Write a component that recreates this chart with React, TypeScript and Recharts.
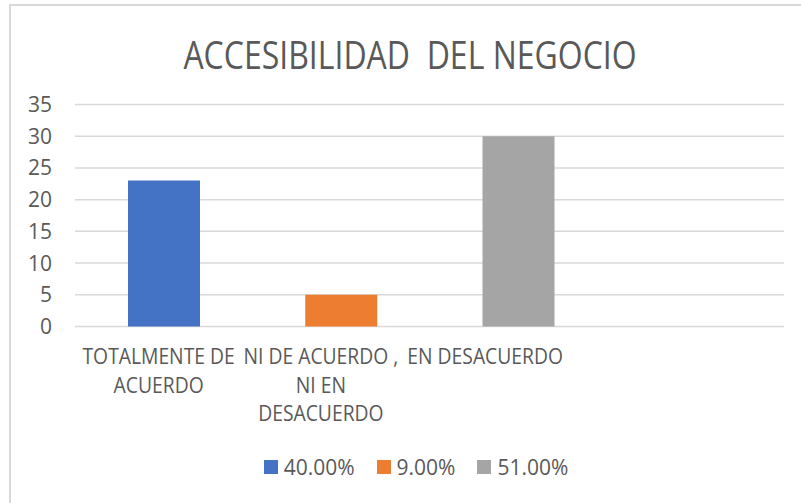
import { BarChart, Bar, XAxis, YAxis, CartesianGrid, Legend } from "recharts";

// ---------------------------------------------------------------------------
// Datos
// ---------------------------------------------------------------------------
const CATEGORIES = [
  ["TOTALMENTE DE", "ACUERDO"],
  ["NI DE ACUERDO ,", "NI EN", "DESACUERDO"],
  ["EN DESACUERDO"],
  [""],
];
const SERIES_NAMES = ["40.00%", "9.00%", "51.00%"];
const SERIES_VALUES = [23, 5, 30];
const Y_TICKS = [0, 5, 10, 15, 20, 25, 30, 35];

const COLORS = ["#4472C4", "#ED7D31", "#A5A5A5"];
const TEXT_COLOR = "#595959";
const GRID_COLOR = "#D9D9D9";
const FONT = '"Open Sans", sans-serif';

// una fila por categoría; cada serie sólo tiene valor en su propia categoría
const data = CATEGORIES.map((lines, i) => {
  const row: Record<string, any> = { name: lines.join(" "), idx: i };
  SERIES_NAMES.forEach((_, s) => {
    row[`s${s}`] = s === i ? SERIES_VALUES[s] : null;
  });
  return row;
});

// Excel corre las etiquetas un poco a la izquierda
const LABEL_SHIFT = [-5, -20, -33, 0];

function CategoryTick(props: any) {
  const { x, y, payload } = props;
  const i = payload.index as number;
  const lines = CATEGORIES[i] ?? [];
  const cx = x + (LABEL_SHIFT[i] ?? 0);
  // Calibri es más estrecha que Open Sans: se comprime un poco en horizontal
  return (
    <g transform={`translate(${cx},${y}) scale(0.92,1)`}>
      <text x={0} y={0} textAnchor="middle" fill={TEXT_COLOR} fontFamily={FONT} fontSize={21}>
        {lines.map((l, k) => (
          <tspan key={k} x={0} dy={k === 0 ? 30 : 28.5}>
            {l}
          </tspan>
        ))}
      </text>
    </g>
  );
}

function LegendContent() {
  return (
    <div
      style={{
        display: "flex",
        justifyContent: "center",
        alignItems: "center",
        gap: 22,
        fontFamily: FONT,
        fontSize: 21,
        color: TEXT_COLOR,
        paddingLeft: 48,
      }}
    >
      {SERIES_NAMES.map((n, i) => (
        <div key={n} style={{ display: "flex", alignItems: "center", gap: 6 }}>
          <span style={{ width: 14, height: 14, background: COLORS[i], display: "inline-block" }} />
          <span>{n}</span>
        </div>
      ))}
    </div>
  );
}

export default function App() {
  return (
    <div
      style={{
        position: "absolute",
        left: 0,
        top: 0,
        width: 801,
        height: 503,
        background: "#fff",
        overflow: "hidden",
      }}
    >
      {/* marco del gráfico */}
      <div
        style={{
          position: "absolute",
          left: 9,
          top: 4,
          width: 820,
          height: 520,
          borderLeft: `2px solid ${GRID_COLOR}`,
          borderTop: `2px solid ${GRID_COLOR}`,
        }}
      />
      <div
        style={{
          position: "absolute",
          left: 0,
          width: 820,
          top: 33,
          textAlign: "center",
          whiteSpace: "pre",
          fontFamily: FONT,
          fontSize: 37.5,
          color: TEXT_COLOR,
          lineHeight: "44px",
          transform: "scaleX(0.853)",
          transformOrigin: "410px 0",
        }}
      >
        ACCESIBILIDAD  DEL NEGOCIO
      </div>
      <BarChart
        width={801}
        height={503}
        data={data}
        margin={{ top: 104.5, right: 17, bottom: 20, left: 0 }}
        barSize={72}
      >
        <CartesianGrid vertical={false} stroke={GRID_COLOR} strokeWidth={1.5} />
        <XAxis
          dataKey="name"
          axisLine={false}
          tickLine={false}
          height={126.5}
          interval={0}
          tick={<CategoryTick />}
        />
        <YAxis
          width={75}
          domain={[0, 35]}
          ticks={Y_TICKS}
          axisLine={false}
          tickLine={false}
          tickMargin={17}
          tick={{ fill: TEXT_COLOR, fontSize: 21, fontFamily: FONT }}
        />
        <Legend verticalAlign="bottom" height={30} content={<LegendContent />} />
        {SERIES_NAMES.map((n, s) => (
          <Bar
            key={n}
            dataKey={`s${s}`}
            name={n}
            stackId="a"
            fill={COLORS[s]}
            isAnimationActive={false}
          />
        ))}
      </BarChart>
    </div>
  );
}
